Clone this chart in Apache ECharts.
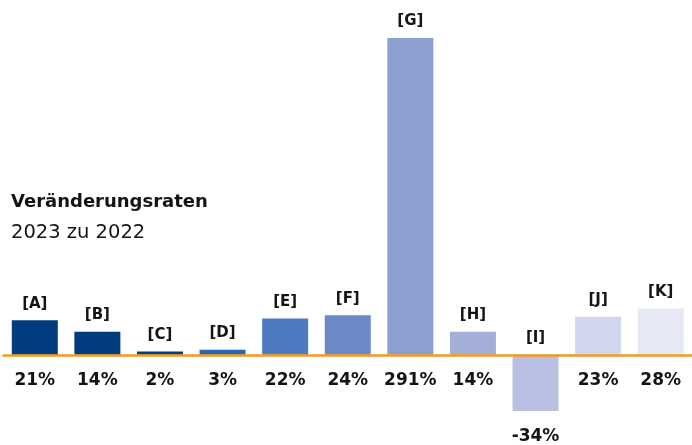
<!DOCTYPE html>
<html>
<head>
<meta charset="utf-8">
<script src="https://cdn.jsdelivr.net/npm/echarts@6/dist/echarts.min.js"></script>
<style>
  html, body { margin: 0; padding: 0; background: #fff; }
  #chart { width: 692px; height: 445px; }
</style>
</head>
<body>
<div id="chart"></div>
<script>
const categories = ['[A]', '[B]', '[C]', '[D]', '[E]', '[F]', '[G]', '[H]', '[I]', '[J]', '[K]'];
const values = [21, 14, 2, 3, 22, 24, 291, 14, -34, 23, 28];
const barColors = ['#003C7E', '#003C7E', '#003C7E', '#2B64B3', '#4E7BC0', '#6D8AC8', '#8D9ED1', '#A3AED9', '#B9C0E4', '#D3D6EF', '#E6E8F6'];
const titleText = 'Veränderungsraten';
const subtitleText = '2023 zu 2022';

const textColor = '#141414';
const fontFamily = 'DejaVu Sans';
const chart = echarts.init(document.getElementById('chart'), null, { renderer: 'canvas' });

const barData = values.map((v, i) => ({
  value: v,
  itemStyle: { color: barColors[i] }
}));
const labelData = values.map((v) => ({
  value: v,
  label: { distance: 17 }
}));

chart.setOption({
  animation: false,
  backgroundColor: '#ffffff',
  title: [
    { text: titleText, left: 6, top: 188,
      textStyle: { fontFamily: fontFamily, fontWeight: 'bold', fontSize: 18, color: textColor } },
    { text: subtitleText, left: 6, top: 218,
      textStyle: { fontFamily: fontFamily, fontWeight: 'normal', fontSize: 19.5, color: textColor } }
  ],
  grid: { left: 3.5, width: 693, top: 38, height: 396 },
  xAxis: {
    type: 'category',
    data: categories,
    z: 5,
    axisLine: { show: true, onZero: true, lineStyle: { color: '#F39A1B', width: 2.5 } },
    axisTick: { show: false },
    axisLabel: { show: false },
    splitLine: { show: false }
  },
  yAxis: {
    type: 'value', min: -48, max: 192, show: false,
    splitLine: { show: false }
  },
  series: [
    {
      type: 'bar',
      data: barData,
      barWidth: 46,
      barGap: '-100%',
      clip: true,
      label: {
        show: true,
        position: 'top',
        distance: 9,
        formatter: (p) => categories[p.dataIndex],
        fontFamily: fontFamily, fontWeight: 'bold', fontSize: 15, color: textColor
      }
    },
    {
      type: 'bar',
      data: labelData,
      barWidth: 46,
      barGap: '-100%',
      clip: true,
      itemStyle: { color: 'rgba(0,0,0,0)' },
      silent: true,
      label: {
        show: true,
        position: 'bottom',
        formatter: (p) => values[p.dataIndex] + '%',
        fontFamily: fontFamily, fontWeight: 'bold', fontSize: 17, color: textColor
      }
    }
  ]
});
</script>
</body>
</html>
